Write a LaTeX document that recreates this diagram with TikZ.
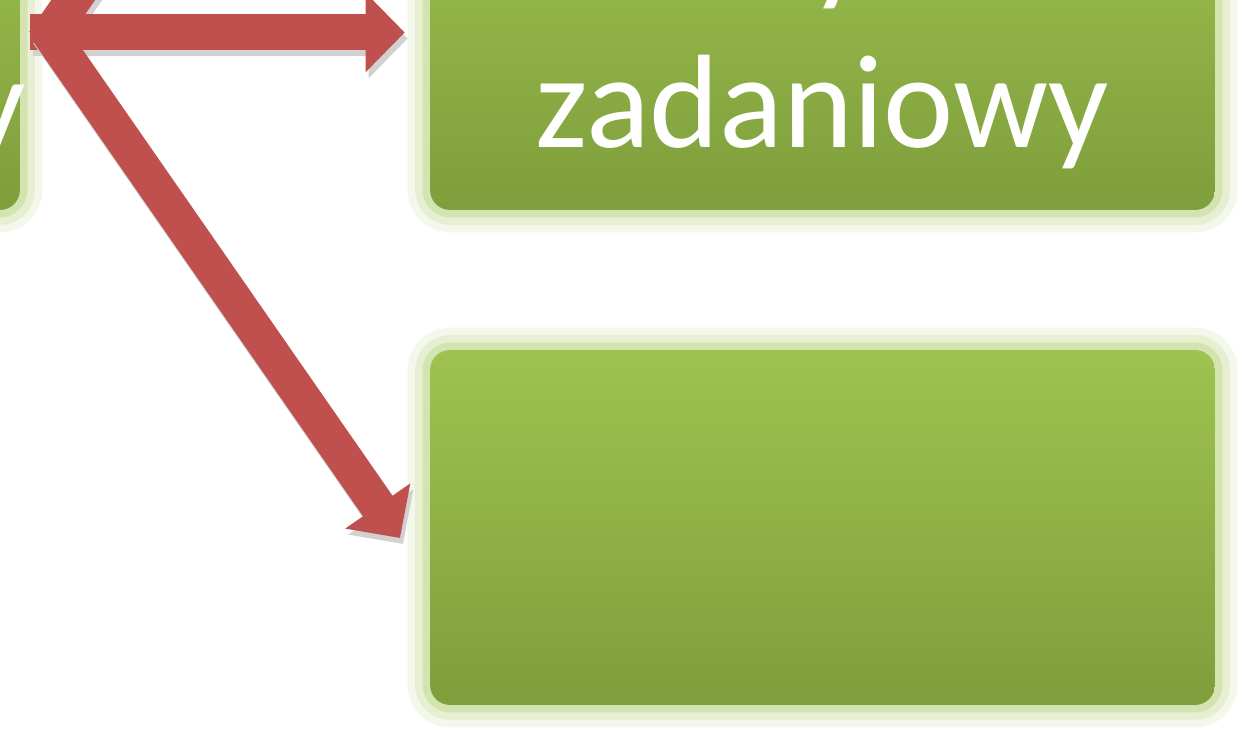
\documentclass[tikz,border=0pt]{standalone}
\usepackage{fontspec}
\setmainfont{Carlito}
\usetikzlibrary{arrows.meta}
\definecolor{boxtop}{HTML}{9EC350}
\definecolor{boxbot}{HTML}{7F9E3C}
\definecolor{arrred}{HTML}{C0504D}

\begin{document}
\begin{tikzpicture}[x=0.02cm, y=-0.02cm,
  gbox/.style={rectangle, rounded corners=0.4cm, top color=boxtop, bottom color=boxbot,
               minimum width=15.7cm, minimum height=7.1cm, align=center, inner sep=0pt,
               text=white, font=\fontsize{75.7pt}{83.1pt}\selectfont,
               preaction={draw=boxtop, line width=0.9cm, draw opacity=0.12},
               preaction={draw=boxtop, line width=0.6cm, draw opacity=0.16},
               preaction={draw=boxtop, line width=0.3cm, draw opacity=0.25}},
  lbl/.style={inner sep=0pt, text=white, font=\fontsize{75.7pt}{83.1pt}\selectfont},
  arr/.style={line width=0.72cm, draw=arrred, -{Triangle[length=0.78cm, width=1.54cm]}},
  shd/.style={arr, draw=black!18, transform canvas={xshift=0.06cm, yshift=-0.12cm}},
]
\path[use as bounding box] (0,0) rectangle (1258,749);
\clip (0,0) rectangle (1258,749);

% Boxes
\node[gbox, minimum width=16.4cm] (src) at (-390, 32.5) {};
\node[lbl, anchor=base east] (srclbl) at (26, 149) {pracy};
\node[gbox, text height=4.62cm, text depth=0cm] (zad) at (822.5, 32.5) {Tryb\\[0.28cm]zadaniowy};
\node[gbox] (low) at (822.5, 527.5) {};

% Arrow ends
\coordinate (hubup) at (44, 42);
\coordinate (uptip) at (400, -470);
\coordinate (hubdn) at (45, 27);
\coordinate (dntip) at (400, 538);

% Arrows
\draw[shd] (hubup) -- (uptip);
\draw[arr] (hubup) -- (uptip);
\draw[shd] ([xshift=0.2cm]src.east) -- ([xshift=-0.5cm]zad.west);
\draw[arr] ([xshift=0.2cm]src.east) -- ([xshift=-0.5cm]zad.west);
\draw[shd] (hubdn) -- (dntip);
\draw[arr] (hubdn) -- (dntip);

\end{tikzpicture}
\end{document}
